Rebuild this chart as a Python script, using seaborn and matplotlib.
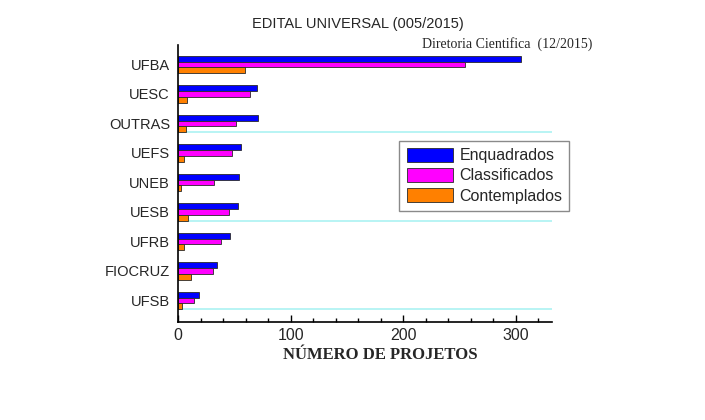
import matplotlib

matplotlib.use("Agg")

import matplotlib.pyplot as plt
import pandas as pd
import seaborn as sns
from matplotlib.ticker import MultipleLocator

INSTITUTIONS = ["UFBA", "UESC", "OUTRAS", "UEFS", "UNEB", "UESB", "UFRB", "FIOCRUZ", "UFSB"]
ENQUADRADOS = [305, 70, 71, 56, 54, 53, 46, 34, 18]
CLASSIFICADOS = [255, 64, 51, 48, 32, 45, 38, 31, 14]
CONTEMPLADOS = [59, 8, 7, 5, 2, 9, 5, 11, 3]
SERIES = ["Enquadrados", "Classificados", "Contemplados"]
COLORS = ["#0000FF", "#FF00FF", "#FF8000"]
GRID_AFTER = ["OUTRAS", "UESB", "UFSB"]


def build_frame() -> pd.DataFrame:
    rows = []
    for name, values in zip(SERIES, [ENQUADRADOS, CLASSIFICADOS, CONTEMPLADOS]):
        for inst, value in zip(INSTITUTIONS, values):
            rows.append({"inst": inst, "serie": name, "valor": value})
    return pd.DataFrame(rows)


def main() -> None:
    sns.set_theme(style="white")
    plt.rcParams["font.family"] = ["Liberation Sans", "DejaVu Sans"]

    df = build_frame()
    fig = plt.figure(figsize=(7.05, 4.20), dpi=100)
    ax = fig.add_axes([0.2529, 0.2333, 0.5297, 0.6595])

    # cyan guide lines under every third group
    for inst in GRID_AFTER:
        y = INSTITUTIONS.index(inst) + 0.3
        ax.axhline(y, color="#B8F4F4", linewidth=1.4, zorder=0)

    sns.barplot(
        data=df, y="inst", x="valor", hue="serie", order=INSTITUTIONS,
        hue_order=SERIES, palette=COLORS, orient="h", width=0.6,
        edgecolor="#2a2a2a", linewidth=0.6, ax=ax, saturation=1, zorder=2,
    )

    ax.set_xlim(0, 332)
    ax.set_ylim(8.73, -0.66)
    ax.set_xlabel("")
    ax.set_ylabel("")
    ax.xaxis.set_major_locator(MultipleLocator(100))
    ax.xaxis.set_minor_locator(MultipleLocator(20))
    ax.tick_params(axis="x", which="major", direction="in", length=5, width=1,
                   labelsize=11.5, pad=4, color="black", bottom=True)
    ax.tick_params(axis="x", which="minor", direction="in", length=3, width=1,
                   color="black", bottom=True)
    ax.tick_params(axis="y", length=0, labelsize=10.5, pad=6)
    for side in ("top", "right"):
        ax.spines[side].set_visible(False)
    for side in ("left", "bottom"):
        ax.spines[side].set_color("black")
        ax.spines[side].set_linewidth(1.2)

    leg = ax.legend(
        loc="upper left", bbox_to_anchor=(0.592, 0.655), borderaxespad=0,
        fontsize=11.5, frameon=True, fancybox=False, edgecolor="#8a8a8a",
        framealpha=1, handlelength=2.9, handleheight=1.0, handletextpad=0.4,
        labelspacing=0.28, borderpad=0.45,
    )
    leg.get_frame().set_linewidth(1.0)
    for patch in leg.get_patches():
        patch.set_edgecolor("#2a2a2a")

    fig.text(0.507, 0.943, "EDITAL UNIVERSAL (005/2015)", ha="center", va="center",
             fontsize=10.5)
    fig.text(0.840, 0.896, "Diretoria Cientifica  (12/2015)", ha="right", va="center",
             fontsize=10, family=["Liberation Serif", "DejaVu Serif"])
    fig.text(0.539, 0.155, "NÚMERO DE PROJETOS", ha="center", va="center",
             fontsize=12, fontweight="bold", family=["Liberation Serif", "DejaVu Serif"])

    fig.savefig("out.png", dpi=100)
    plt.close(fig)


if __name__ == "__main__":
    main()
